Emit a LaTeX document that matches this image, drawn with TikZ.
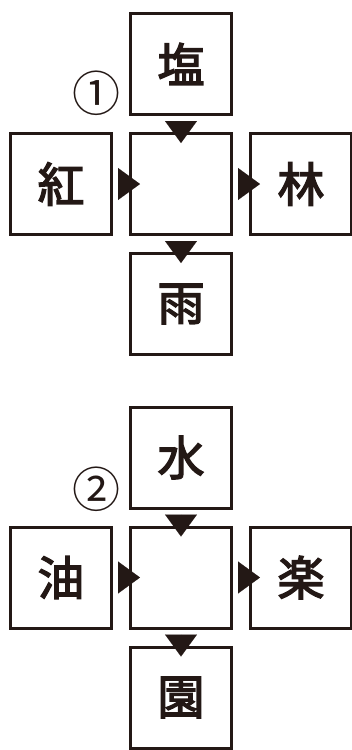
\documentclass[tikz,border=0pt]{standalone}
\usepackage{fontspec}
\newfontfamily\jp{Noto Sans CJK JP}[FakeBold=3]
\newfontfamily\jpnum{Noto Sans CJK JP}
\usetikzlibrary{positioning,arrows.meta}
\definecolor{ink}{RGB}{35,24,21}
\tikzset{
  box/.style={draw=ink, text=ink, line width=3pt, minimum size=101pt, inner sep=0pt,
    font=\jp\fontsize{47}{47}\selectfont},
  tri/.style={-{Triangle[length=22pt,width=32pt]}, draw=ink, fill=ink, line width=0.1pt,
    shorten <=5pt, shorten >=-11pt},
  num/.style={text=ink, inner sep=0pt, font=\jpnum\fontsize{48}{48}\selectfont}
}
\begin{document}
\begin{tikzpicture}[x=1pt,y=1pt,node distance=16pt]
\useasboundingbox (0,0) rectangle (352,-750);
\node[box] (b1) at (181,-184) {};
\node[box, above=of b1] (a1) {塩};
\node[box, left=of b1] (c1) {紅};
\node[box, right=of b1] (d1) {林};
\node[box, below=of b1] (e1) {雨};
\node[num] (n1) at (96,-93) {①};
\draw[tri] (a1) -- (b1);
\draw[tri] (c1) -- (b1);
\draw[tri] (b1) -- (d1);
\draw[tri] (b1) -- (e1);

\node[box] (b2) at (181,-577.5) {};
\node[box, above=of b2] (a2) {水};
\node[box, left=of b2] (c2) {油};
\node[box, right=of b2] (d2) {楽};
\node[box, below=of b2] (e2) {園};
\node[num] (n2) at (96,-489) {②};
\draw[tri] (a2) -- (b2);
\draw[tri] (c2) -- (b2);
\draw[tri] (b2) -- (d2);
\draw[tri] (b2) -- (e2);
\end{tikzpicture}
\end{document}
